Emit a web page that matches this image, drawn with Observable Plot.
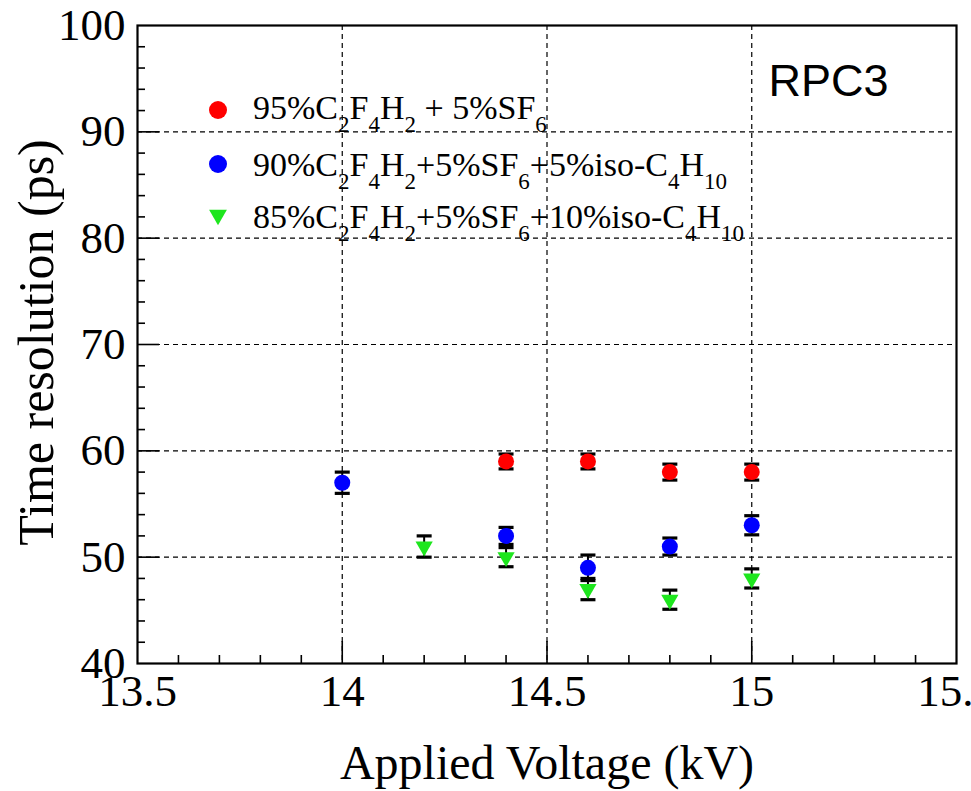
<!DOCTYPE html>
<html><head><meta charset="utf-8">
<script src="https://cdn.jsdelivr.net/npm/d3@7"></script>
<script src="https://cdn.jsdelivr.net/npm/@observablehq/plot@0.6"></script>
<style>html,body{margin:0;padding:0;background:#fff;overflow:hidden}</style>
</head><body><div id="chart"></div>
<script>
// ---- axis ticks ----
const xTickLabels = [13.5, 14, 14.5, 15, 15.5];
const yTickLabels = [40, 50, 60, 70, 80, 90, 100];
const xGrid = [14, 14.5, 15];
const yGrid = [50, 60, 70, 80, 90];
const xMinor = [13.6, 13.7, 13.8, 13.9, 14.1, 14.2, 14.3, 14.4, 14.6, 14.7, 14.8, 14.9, 15.1, 15.2, 15.3, 15.4];
const yMinor = [42, 44, 46, 48, 52, 54, 56, 58, 62, 64, 66, 68, 72, 74, 76, 78, 82, 84, 86, 88, 92, 94, 96, 98];

// ---- series ----
const seriesLabels = [
  "95%C_2F_4H_2 + 5%SF_6",
  "90%C_2F_4H_2+5%SF_6+5%iso-C_4H_10",
  "85%C_2F_4H_2+5%SF_6+10%iso-C_4H_10"
];
const seriesColors = ["#ff0000", "#0000ff", "#1ee61e"];

const voltageRed = [14.4, 14.6, 14.8, 15.0];
const resolutionRed = [59, 59, 58, 58];
const errorRed = [0.7, 0.7, 0.75, 0.75];

const voltageBlue = [14.0, 14.4, 14.6, 14.8, 15.0];
const resolutionBlue = [57, 52, 49, 51, 53];
const errorBlue = [1.0, 0.8, 1.2, 0.8, 0.9];

const voltageGreen = [14.2, 14.4, 14.6, 14.8, 15.0];
const resolutionGreen = [51, 50, 47, 46, 48];
const errorGreen = [1.0, 0.9, 1.0, 0.9, 0.9];

const toRows = (vs, ts, es) => vs.map((v, i) => ({v, t: ts[i], e: es[i]}));
const redRows = toRows(voltageRed, resolutionRed, errorRed);
const blueRows = toRows(voltageBlue, resolutionBlue, errorBlue);
const greenRows = toRows(voltageGreen, resolutionGreen, errorGreen);
const allRows = [...redRows, ...blueRows, ...greenRows];

// ---- layout ----
const W = 971, H = 791, mL = 137, mR = 15, mT = 25, mB = 128;
const fw = W - mL - mR, fh = H - mT - mB;
const serif = "'Liberation Serif', 'Times New Roman', serif";

const capSymbol = {draw(ctx) { ctx.moveTo(-7.5, 0); ctx.lineTo(7.5, 0); }};

const chart = Plot.plot({
  width: W, height: H,
  marginLeft: mL, marginRight: mR, marginTop: mT, marginBottom: mB,
  x: {domain: [13.5, 15.5]},
  y: {domain: [40, 100]},
  style: {background: "white", fontFamily: serif, color: "black"},
  marks: [
    Plot.ruleX(xGrid, {x: d => d, stroke: "black", strokeWidth: 1.2, strokeDasharray: "5,4"}),
    Plot.ruleY(yGrid, {y: d => d, stroke: "black", strokeWidth: 1.2, strokeDasharray: "5,4"}),
    Plot.tickX(xMinor, {x: d => d, insetTop: fh - 8, stroke: "black", strokeWidth: 1.6}),
    Plot.tickX(xGrid, {x: d => d, insetTop: fh - 22, stroke: "black", strokeWidth: 1.6}),
    Plot.tickY(yMinor, {y: d => d, insetRight: fw - 8, stroke: "black", strokeWidth: 1.6}),
    Plot.tickY(yGrid, {y: d => d, insetRight: fw - 22, stroke: "black", strokeWidth: 1.6}),
    Plot.frame({stroke: "black", strokeWidth: 2.2}),
    Plot.axisX(xTickLabels, {tickSize: 0, tickPadding: 11, fontSize: 45, label: null, tickFormat: d => String(d)}),
    Plot.axisY(yTickLabels, {tickSize: 0, tickPadding: 12, fontSize: 45, label: null, tickFormat: d => String(d)}),
    Plot.text(["Applied Voltage (kV)"], {text: d => d, frameAnchor: "bottom", textAnchor: "middle", lineAnchor: "middle", dy: 100, fontSize: 48}),
    Plot.text(["Time resolution (ps)"], {text: d => d, frameAnchor: "left", textAnchor: "middle", lineAnchor: "middle", rotate: -90, dx: -101, dy: -2, fontSize: 50}),
    Plot.text(["RPC3"], {text: d => d, frameAnchor: "top-left", textAnchor: "start", lineAnchor: "middle", dx: 631, dy: 56, fontSize: 45, fontFamily: "'Liberation Sans', Arial, sans-serif"}),
    // error bars
    Plot.ruleX(allRows, {x: "v", y1: d => d.t - d.e, y2: d => d.t + d.e, stroke: "black", strokeWidth: 2}),
    Plot.dot(allRows, {x: "v", y: d => d.t - d.e, symbol: capSymbol, stroke: "black", strokeWidth: 3.2, r: 5}),
    Plot.dot(allRows, {x: "v", y: d => d.t + d.e, symbol: capSymbol, stroke: "black", strokeWidth: 3.2, r: 5}),
    // markers
    Plot.dot(redRows, {x: "v", y: "t", r: 8, fill: seriesColors[0], symbol: "circle"}),
    Plot.dot(blueRows, {x: "v", y: "t", r: 8, fill: seriesColors[1], symbol: "circle"}),
    Plot.dot(greenRows, {x: "v", y: "t", r: 6.4, fill: seriesColors[2], symbol: "triangle", rotate: 180})
  ]
});

document.getElementById("chart").appendChild(chart);

// ---- legend (inside the frame, top-left) ----
const svg = d3.select(chart);
const lg = svg.append("g").attr("font-family", serif).attr("fill", "black").attr("text-anchor", "start");
const rowY = [110, 164, 215];
const baseY = [119, 176, 228];
seriesLabels.forEach((lab, i) => {
  if (i < 2) {
    lg.append("circle").attr("cx", 218).attr("cy", rowY[i]).attr("r", 9).attr("fill", seriesColors[i]);
  } else {
    lg.append("path").attr("transform", `translate(218,${rowY[i]}) rotate(180)`)
      .attr("d", d3.symbol(d3.symbolTriangle, Math.PI * 6.6 * 6.6)()).attr("fill", seriesColors[i]);
  }
  const t = lg.append("text").attr("x", 253).attr("y", baseY[i]).attr("font-size", 34)
    .attr("text-anchor", "start").style("white-space", "pre");
  const parts = lab.split(/_(\d+)/);
  let shifted = false;
  parts.forEach((p, k) => {
    if (p === "") return;
    const sub = k % 2 === 1;
    const ts = t.append("tspan").text(p);
    if (sub) { ts.attr("font-size", 23).attr("dy", shifted ? 0 : 13); shifted = true; }
    else { if (shifted) ts.attr("dy", -13); shifted = false; }
  });
});
</script>
</body></html>
